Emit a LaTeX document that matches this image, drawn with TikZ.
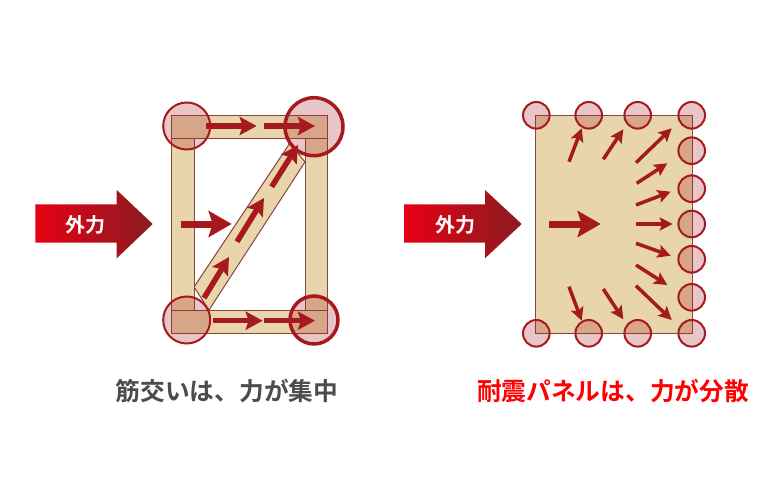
\documentclass[tikz,border=0pt]{standalone}
\usepackage{fontspec}
\newfontfamily\cjk[BoldFont={Noto Sans CJK JP Bold}]{Noto Sans CJK JP}
\usepackage{tikz}
\usetikzlibrary{arrows.meta}
\definecolor{wood}{HTML}{E8D5AB}
\definecolor{woodline}{HTML}{8A4540}
\definecolor{force}{HTML}{A5191F}
\definecolor{loadstart}{HTML}{E60012}
\definecolor{loadend}{HTML}{8A1C22}
\tikzset{
	member/.style={draw=woodline, line width=1pt, fill=wood},
	joint/.style={draw=force, line width=2pt, fill=force, fill opacity=0.25, draw opacity=1},
	bigjoint/.style={joint, line width=3.5pt},
	push/.style={force, line width=5.5pt, -{Stealth[length=17pt, width=18pt, inset=3pt]}},
	pushbig/.style={force, line width=7pt, -{Stealth[length=23pt, width=26pt, inset=4pt]}},
	spread/.style={force, line width=3.5pt, -{Stealth[length=13pt, width=13pt, inset=2.5pt]}},
	load/.style={left color=loadstart, right color=loadend},
	loadtext/.style={text=white, font=\cjk\bfseries\fontsize{20}{20}\selectfont},
	caption/.style={font=\cjk\bfseries\fontsize{24.7}{25}\selectfont}
}
\begin{document}
\begin{tikzpicture}[x=1pt, y=-1pt]
	\useasboundingbox (0, 0) rectangle (783, 500);
	%%%%% LEFT %%%%%
	\shade[load] (35.3, 204.3) -- (116.7, 204.3) -- (116.7, 190) -- (152.7, 224) -- (116.7, 258.3) -- (116.7, 242.7) -- (35.3, 242.7) -- cycle;
	\node[loadtext] (loadA) at (85, 225) {外力};
	
	\draw[member] (194, 287) -- (290, 143) -- (305, 162) -- (209, 310) -- cycle;
	\draw[member] (171, 138.3) rectangle (194, 310);
	\draw[member] (305, 138.3) rectangle (327.7, 310);
	\draw[member] (171, 115) rectangle (327.7, 138.3);
	\draw[member] (171, 310) rectangle (327.7, 333.3);
	
	\draw[joint] (186.7, 126) circle (23.5);
	\draw[joint] (186.7, 320) circle (23.5);
	\draw[bigjoint] (314, 126.7) circle (29);
	\draw[bigjoint] (314, 320) circle (24);
	
	\draw[push] (206, 126) -- (256.7, 126);
	\draw[push] (264, 126) -- (315, 126);
	\draw[push] (212.7, 320.7) -- (262.7, 320.7);
	\draw[push] (264, 320.7) -- (315, 320.7);
	\draw[push] (204, 298) -- (229, 257);
	\draw[push] (237, 241.7) -- (264, 198);
	\draw[push] (271.7, 186.7) -- (298, 145);
	\draw[pushbig] (180.7, 224) -- (231.7, 224);
	
	\node[caption, text=black!70] (captionA) at (227, 391) {筋交いは、力が集中};
	
	%%%%% RIGHT %%%%%
	\shade[load] (404, 204.3) -- (485, 204.3) -- (485, 190) -- (521.7, 224) -- (485, 258.3) -- (485, 242.7) -- (404, 242.7) -- cycle;
	\node[loadtext] (loadB) at (455.7, 225) {外力};
	
	\draw[member] (535.7, 115) rectangle (692.3, 333.3);
	
	\foreach \px in {536.3, 588.7, 637.7, 691.7} {
		\draw[joint] (\px, 115.3) circle (13.3);
		\draw[joint] (\px, 333.3) circle (13.3);
	}
	\foreach \py in {150.7, 188.7, 224, 259.3, 297.3}
		\draw[joint] (691.7, \py) circle (13.3);
	
	\draw[pushbig] (549.3, 224) -- (600.7, 224);
	\draw[spread] (569, 161.7) -- (581.7, 128.3);
	\draw[spread] (603.3, 159.3) -- (623.3, 129.3);
	\draw[spread] (636, 162.7) -- (671.7, 128.3);
	\draw[spread] (636.7, 183.3) -- (667.3, 163.3);
	\draw[spread] (636, 205) -- (670.7, 191.7);
	\draw[spread] (636, 224) -- (672.7, 224);
	\draw[spread] (636, 243.3) -- (670.7, 255.7);
	\draw[spread] (636, 265) -- (667.3, 285);
	\draw[spread] (636, 285.7) -- (671.7, 320);
	\draw[spread] (603.3, 289) -- (623.3, 319.3);
	\draw[spread] (569, 286.7) -- (581.7, 320.7);
	
	\node[caption, text=red] (captionB) at (613, 391) {耐震パネルは、力が分散};
	%%%%% END %%%%%
\end{tikzpicture}
\end{document}
